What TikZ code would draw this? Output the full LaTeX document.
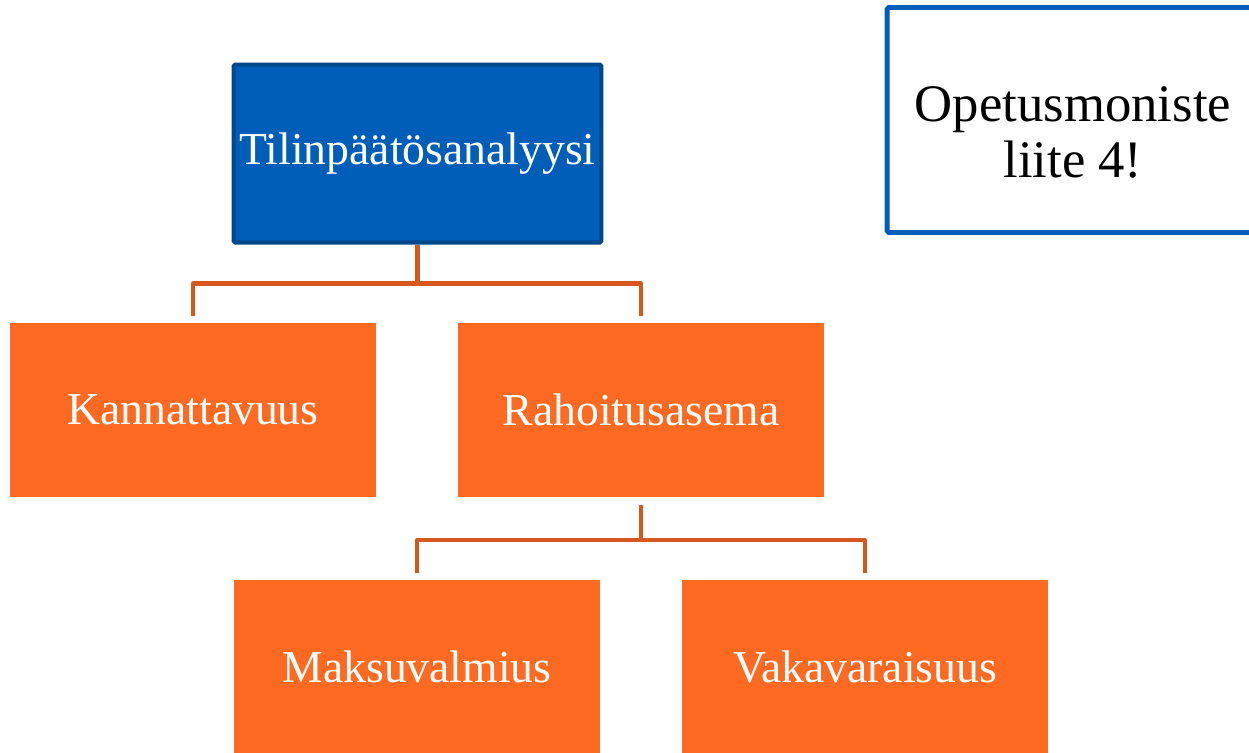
\documentclass[tikz,border=0pt]{standalone}
\usepackage{fontspec}
\setmainfont{Liberation Serif}
\usepackage{tikz}
\usetikzlibrary{positioning}
\definecolor{rootblue}{RGB}{0,94,184}
\definecolor{rootedge}{RGB}{0,72,140}
\definecolor{boxorange}{RGB}{255,106,34}
\definecolor{linkorange}{RGB}{214,88,30}
\tikzset{
  rootbox/.style={rectangle, draw=rootedge, fill=rootblue, line width=2.3pt, rounded corners=1pt,
                  minimum width=7.36cm, minimum height=3.56cm, text=white, font=\fontsize{26}{30}\selectfont},
  childbox/.style={rectangle, fill=boxorange, minimum width=7.32cm, minimum height=3.48cm,
                   text=white, font=\fontsize{26}{30}\selectfont},
  notebox/.style={rectangle, draw=rootblue, fill=white, line width=2.8pt, rounded corners=1pt,
                  minimum width=7.44cm, minimum height=4.5cm, align=center, font=\fontsize{30}{32}\selectfont},
  link/.style={draw=linkorange, line width=2.3pt, line join=round},
}

\begin{document}
\begin{tikzpicture}[x=0.02cm, y=-0.02cm]
  \useasboundingbox (0,0) rectangle (1249,752);
  \node[rootbox] (root) at (417.5,153.5) {Tilinpäätösanalyysi};
  \node[childbox] (kann) at (193,410) {Kannattavuus};
  \node[childbox] (rah) at (641,410) {Rahoitusasema};
  \node[childbox] (maks) at (417,667) {Maksuvalmius};
  \node[childbox] (vaka) at (865,667) {Vakavaraisuus};
  \node[notebox] (note) at (1073,120) {\rule{0pt}{34pt}Opetusmoniste\\liite 4!};

  % tree links
  \draw[link] (root.south) -- ++(0,39) coordinate (j1);
  \draw[link] (j1) -| ([yshift=0.14cm]kann.north);
  \draw[link] (j1) -| ([yshift=0.14cm]rah.north);
  \draw[link] ([yshift=-0.16cm]rah.south) -- ++(0,35) coordinate (j2);
  \draw[link] (j2) -| ([yshift=0.14cm]maks.north);
  \draw[link] (j2) -| ([yshift=0.14cm]vaka.north);

\end{tikzpicture}
\end{document}
